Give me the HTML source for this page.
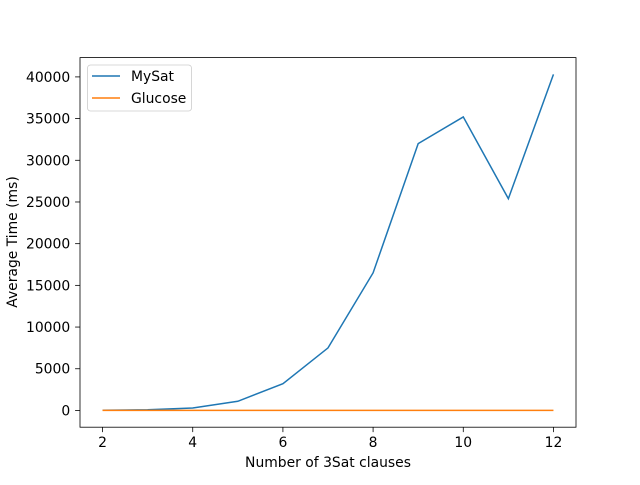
<!DOCTYPE html>
<html><head><meta charset="utf-8"><style>
body{margin:0;background:#fff;}
svg text{font-family:"DejaVu Sans","Liberation Sans",sans-serif;fill:#000;}
</style></head><body>
<svg id="chart" width="640" height="480" xmlns="http://www.w3.org/2000/svg"></svg>
<script>
const categories=[2,3,4,5,6,7,8,9,10,11,12];
const mysat=[20,80,300,1100,3200,7500,16500,32000,35200,25400,40300];
const glucose=[5,5,5,5,5,5,5,5,5,5,5];
const xTicks=[2,4,6,8,10,12];
const yTicks=[0,5000,10000,15000,20000,25000,30000,35000,40000];
const L=80,R=576,T=57.6,B=427.2;
const svg=document.getElementById('chart');
const NS='http://www.w3.org/2000/svg';
const xmin=1.5,xmax=12.5;
const all=mysat.concat(glucose);
const dmax=Math.max(...all),dmin=Math.min(...all);
const pad=(dmax-dmin)*0.05;
const ymin=dmin-pad,ymax=dmax+pad;
const x=v=>L+(v-xmin)/(xmax-xmin)*(R-L);
const y=v=>B-(v-ymin)/(ymax-ymin)*(B-T);
function mk(tag,attrs,parent){const e=document.createElementNS(NS,tag);for(const k in attrs)e.setAttribute(k,attrs[k]);(parent||svg).appendChild(e);return e;}
function series(vals,color,name){
  const p=mk('polyline',{points:vals.map((v,i)=>x(categories[i])+','+y(v)).join(' '),fill:'none',stroke:color,'stroke-width':1.5});
  
  
}
series(mysat,'#1f77b4','mysat-line');
series(glucose,'#ff7f0e','glucose-line');
const frame=mk('rect',{x:L,y:T,width:R-L,height:B-T,fill:'none',stroke:'#000','stroke-width':0.8});


xTicks.forEach(t=>{
  const l=mk('line',{x1:x(t),x2:x(t),y1:B,y2:B+4.9,stroke:'#000','stroke-width':0.8});
  
  
  const tx=mk('text',{x:x(t),y:B+20,'text-anchor':'middle','font-size':13.9});
  tx.textContent=t;
  
  
});
yTicks.forEach(t=>{
  const l=mk('line',{x1:L-4.9,x2:L,y1:y(t),y2:y(t),stroke:'#000','stroke-width':0.8});
  
  
  const tx=mk('text',{x:L-9.8,y:y(t)+5,'text-anchor':'end','font-size':13.9});
  tx.textContent=t;
  
  
});
</script>
<svg width="640" height="480" style="position:absolute;left:0;top:0">
<text x="328" y="467" text-anchor="middle" font-size="13.9">Number of 3Sat clauses</text>
<text transform="translate(17,242) rotate(-90)" text-anchor="middle" font-size="13.9">Average Time (ms)</text>
<g>
<rect x="87.5" y="65" width="104" height="46" rx="3" fill="#fff" fill-opacity="0.8" stroke="#ccc" stroke-width="0.8"/>
<line x1="92" x2="120" y1="76" y2="76" stroke="#1f77b4" stroke-width="1.5"/>
<text x="131" y="81" font-size="13.9">MySat</text>
<line x1="92" x2="120" y1="98" y2="98" stroke="#ff7f0e" stroke-width="1.5"/>
<text x="131" y="103" font-size="13.9">Glucose</text>
</g>
</svg>
</body></html>
